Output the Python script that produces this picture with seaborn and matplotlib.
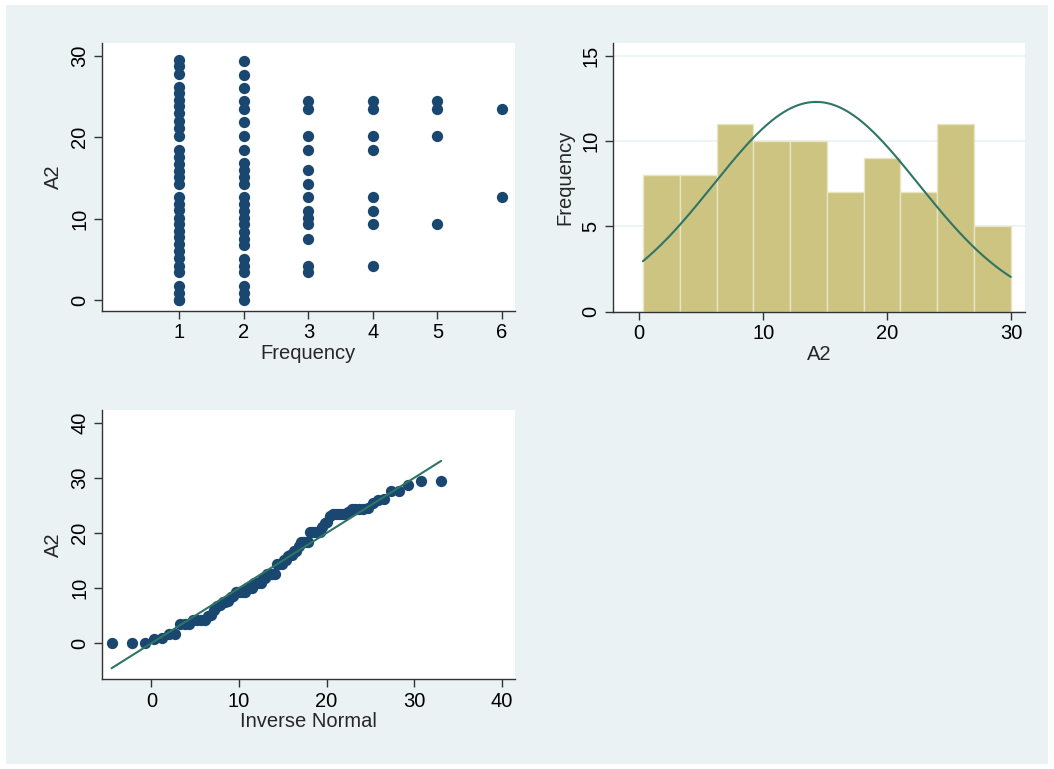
import numpy as np
import pandas as pd
import seaborn as sns
import matplotlib.pyplot as plt
from matplotlib.patches import Rectangle
from statistics import NormalDist

# A2 values, one list per Frequency value
a2_freq1 = [29.5, 28.7, 27.7, 26.1, 25.4, 24.6, 23.8, 23.0, 22.0, 21.1, 20.2,
            18.4, 17.6, 16.7, 15.9, 15.1, 14.3, 12.6, 11.8, 11.0, 10.1, 9.3,
            8.5, 7.7, 6.9, 6.0, 5.2, 4.2, 3.4, 1.7, 0.9, 0.0, 0.0]
a2_freq2 = [29.4, 27.6, 26.0, 24.4, 23.5, 21.8, 20.1, 18.4, 16.8, 16.0, 15.1,
            14.3, 12.6, 11.8, 10.9, 10.1, 9.3, 8.4, 7.5, 6.7, 5.0, 4.2, 3.4,
            1.7, 0.8, 0.0]
a2_freq3 = [24.4, 23.5, 20.1, 18.4, 16.0, 14.3, 12.6, 10.9, 10.1, 9.3, 7.5, 4.2, 3.4]
a2_freq4 = [24.4, 23.5, 20.1, 18.4, 12.6, 10.9, 9.3, 4.2]
a2_freq5 = [24.4, 23.5, 20.1, 9.3]
a2_freq6 = [23.5, 12.6]

# histogram bars as read (10 bins)
hist_counts = [8, 8, 11, 10, 10, 7, 9, 7, 11, 5]
hist_start = 0.3
hist_width = 2.965

BG = "#EAF2F3"
NAVY = "#1A476F"
KHAKI = "#CCC480"
GREEN = "#2F7566"

groups = [a2_freq1, a2_freq2, a2_freq3, a2_freq4, a2_freq5, a2_freq6]
df = pd.DataFrame({
    "Frequency": [i + 1 for i, g in enumerate(groups) for _ in g],
    "A2": [v for g in groups for v in g],
})

sns.set_theme(style="white")
plt.rcParams["font.family"] = ["Liberation Sans", "DejaVu Sans"]

fig = plt.figure(figsize=(10.54, 7.69), dpi=100, facecolor="white")
fig.patches.append(Rectangle((6 / 1054, 5 / 769), 1042 / 1054, 759 / 769,
                             transform=fig.transFigure, facecolor=BG,
                             edgecolor="none", zorder=-10))

ax1 = fig.add_axes([0.0965, 0.5956, 0.3921, 0.3489])
ax2 = fig.add_axes([0.5813, 0.5947, 0.3912, 0.3490])
ax3 = fig.add_axes([0.0965, 0.1170, 0.3921, 0.3498])

# scatter A2 vs Frequency
sns.scatterplot(data=df, x="Frequency", y="A2", ax=ax1, color=NAVY, s=66,
                linewidth=0, zorder=3)
ax1.set_xlim(-0.2, 6.2)
ax1.set_ylim(-1.35, 31.6)
ax1.set_xticks([1, 2, 3, 4, 5, 6])
ax1.set_yticks([0, 10, 20, 30])

# histogram with normal curve
edges = [hist_start + hist_width * k for k in range(len(hist_counts) + 1)]
hist_df = pd.DataFrame({
    "A2": [(edges[k] + edges[k + 1]) / 2 for k in range(len(hist_counts))],
    "count": hist_counts,
})
sns.histplot(data=hist_df, x="A2", weights="count", bins=edges, ax=ax2,
             color=KHAKI, alpha=1, edgecolor="#E9E5C4", linewidth=1, zorder=2)
a2 = df["A2"].to_numpy()
mu, sd = a2.mean(), a2.std(ddof=1)
xs = np.linspace(edges[0], edges[-1], 300)
scale = sum(hist_counts) * hist_width
ys = [scale * NormalDist(mu, sd).pdf(v) for v in xs]
sns.lineplot(x=xs, y=ys, ax=ax2, color=GREEN, linewidth=1.5, zorder=4)
ax2.set_xlim(-2.14, 31.1)
ax2.set_ylim(0, 15.73)
ax2.set_xticks([0, 10, 20, 30])
ax2.set_yticks([0, 5, 10, 15])
ax2.yaxis.grid(True, color=BG, linewidth=1.2)
ax2.set_axisbelow(True)
ax2.set_xlabel("A2")
ax2.set_ylabel("Frequency")

# normal quantile plot
a2_sorted = np.sort(a2)
n = len(a2_sorted)
qx = [NormalDist(mu, sd).inv_cdf(i / (n + 1)) for i in range(1, n + 1)]
sns.scatterplot(x=qx, y=a2_sorted, ax=ax3, color=NAVY, s=66, linewidth=0, zorder=3)
sns.lineplot(x=[qx[0], qx[-1]], y=[qx[0], qx[-1]], ax=ax3, color=GREEN,
             linewidth=1.5, zorder=4)
ax3.set_xlim(-5.67, 41.5)
ax3.set_ylim(-6.5, 42.3)
ax3.set_xticks([0, 10, 20, 30, 40])
ax3.set_yticks([0, 10, 20, 30, 40])
ax3.set_xlabel("Inverse Normal")
ax3.set_ylabel("A2")

for ax in (ax1, ax2, ax3):
    ax.set_facecolor("white")
    sns.despine(ax=ax)
    for s in ("left", "bottom"):
        ax.spines[s].set_color("#333333")
        ax.spines[s].set_linewidth(1)
    ax.tick_params(direction="out", length=6, width=1, color="#333333",
                   labelsize=14.5, labelcolor="black", pad=3)
    ax.tick_params(axis="x", bottom=True)
    ax.tick_params(axis="y", left=True)
    for lab in ax.get_yticklabels():
        lab.set_rotation(90)
        lab.set_va("center")
    ax.xaxis.label.set_size(14.5)
    ax.yaxis.label.set_size(14.5)
    ax.xaxis.labelpad = 1
    ax.yaxis.labelpad = 5

fig.savefig("out.png", dpi=100, facecolor="white")
